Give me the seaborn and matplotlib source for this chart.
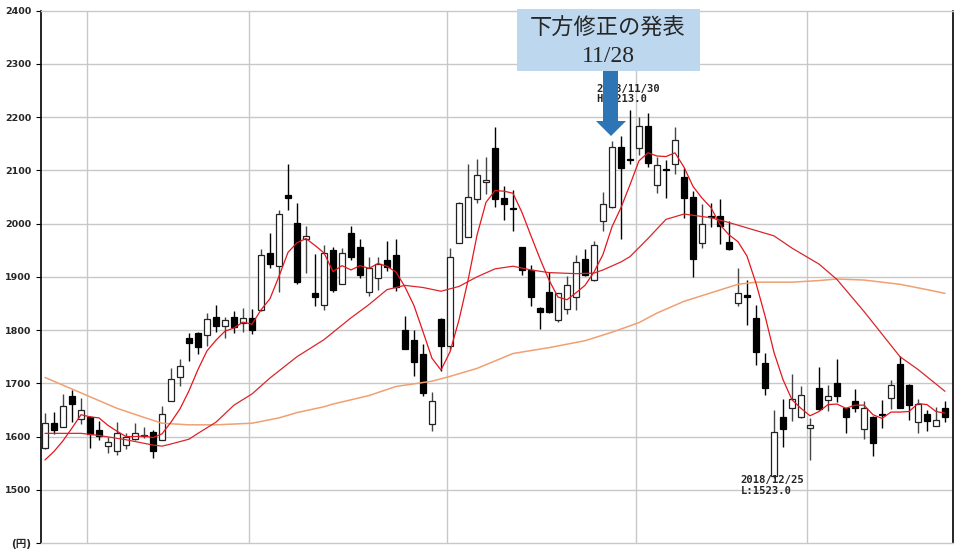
import matplotlib
matplotlib.use("Agg")
import matplotlib.pyplot as plt
import seaborn as sns
import numpy as np
from matplotlib.patches import Rectangle, Polygon

# daily candles, 2018/08/27 .. 2019/01/28 (index = trading day)
opens = [1578, 1626, 1618, 1677, 1633, 1636, 1612, 1582, 1572, 1584,
         1596, 1601, 1608, 1594, 1667, 1712, 1786, 1794, 1791, 1825,
         1808, 1825, 1814, 1822, 1837, 1945, 1921, 2053, 2001, 1971,
         1869, 1848, 1951, 1887, 1982, 1956, 1872, 1897, 1932, 1941,
         1800, 1782, 1756, 1624, 1821, 1770, 1964, 1975, 2047, 2078,
         2142, 2048, 2029, 1956, 1912, 1842, 1872, 1818, 1840, 1862,
         1934, 1895, 2004, 2031, 2144, 2122, 2143, 2184, 2073, 2103,
         2112, 2087, 2050, 1964, 2015, 2014, 1966, 1851, 1865, 1823,
         1739, 1525, 1637, 1654, 1637, 1616, 1691, 1669, 1701, 1653,
         1666, 1614, 1637, 1643, 1673, 1736, 1697, 1628, 1643, 1620,
         1654]
highs = [1644, 1647, 1679, 1688, 1672, 1638, 1630, 1599, 1628, 1607,
         1626, 1617, 1612, 1657, 1728, 1745, 1795, 1797, 1833, 1847,
         1824, 1836, 1841, 1839, 1952, 1982, 2026, 2112, 2038, 1995,
         1942, 1960, 1957, 1954, 1996, 1972, 1937, 1937, 1968, 1972,
         1827, 1801, 1773, 1684, 1823, 1954, 2041, 2112, 2122, 2126,
         2181, 2070, 2064, 1957, 1923, 1843, 1909, 1870, 1901, 1941,
         1952, 1967, 2059, 2156, 2165, 2213, 2201, 2207, 2126, 2120,
         2182, 2104, 2062, 2037, 2039, 2046, 2004, 1917, 1894, 1848,
         1757, 1650, 1670, 1718, 1695, 1634, 1731, 1696, 1746, 1654,
         1690, 1667, 1638, 1668, 1707, 1752, 1698, 1671, 1649, 1656,
         1667]
lows = [1577, 1605, 1617, 1628, 1624, 1578, 1594, 1569, 1566, 1577,
        1594, 1597, 1559, 1593, 1666, 1695, 1742, 1756, 1771, 1797,
        1786, 1794, 1797, 1792, 1836, 1916, 1872, 2025, 1887, 1908,
        1845, 1838, 1872, 1886, 1932, 1897, 1864, 1876, 1911, 1873,
        1764, 1714, 1676, 1611, 1724, 1762, 1963, 1974, 2039, 2056,
        2031, 2007, 1986, 1904, 1845, 1802, 1832, 1815, 1831, 1837,
        1902, 1892, 1986, 2030, 1971, 2112, 2129, 2107, 2057, 2048,
        2094, 2011, 1899, 1954, 1994, 1961, 1951, 1846, 1809, 1734,
        1678, 1523, 1581, 1629, 1634, 1556, 1650, 1648, 1665, 1607,
        1646, 1596, 1564, 1616, 1651, 1653, 1631, 1606, 1610, 1619,
        1628]
closes = [1626, 1612, 1658, 1661, 1649, 1605, 1601, 1589, 1606, 1600,
          1606, 1603, 1573, 1642, 1709, 1733, 1775, 1769, 1820, 1808,
          1819, 1805, 1823, 1800, 1941, 1924, 2018, 2048, 1891, 1977,
          1863, 1945, 1876, 1945, 1937, 1903, 1917, 1925, 1918, 1881,
          1765, 1740, 1682, 1666, 1771, 1937, 2039, 2050, 2091, 2082,
          2047, 2037, 2027, 1912, 1862, 1834, 1834, 1869, 1884, 1928,
          1904, 1959, 2037, 2144, 2104, 2120, 2184, 2114, 2111, 2101,
          2157, 2048, 1934, 1999, 2013, 1996, 1952, 1869, 1863, 1759,
          1692, 1609, 1614, 1671, 1678, 1622, 1651, 1677, 1676, 1637,
          1653, 1654, 1587, 1641, 1696, 1654, 1659, 1662, 1629, 1632,
          1637]

# moving averages
ma5 = [1556, 1572, 1592, 1616, 1641, 1637, 1635, 1621, 1610, 1600,
       1600, 1601, 1598, 1605, 1627, 1652, 1686, 1726, 1761, 1781,
       1798, 1804, 1815, 1811, 1838, 1859, 1901, 1946, 1964, 1972,
       1959, 1945, 1910, 1921, 1913, 1921, 1916, 1925, 1920, 1909,
       1881, 1846, 1797, 1747, 1725, 1759, 1819, 1893, 1978, 2040,
       2062, 2061, 2057, 2021, 1977, 1934, 1894, 1862, 1857, 1870,
       1884, 1909, 1942, 1994, 2030, 2073, 2118, 2133, 2127, 2126,
       2133, 2106, 2070, 2048, 2030, 1998, 1979, 1966, 1939, 1888,
       1827, 1758, 1707, 1669, 1653, 1639, 1647, 1660, 1661, 1653,
       1659, 1659, 1641, 1634, 1646, 1646, 1647, 1662, 1660, 1647,
       1644]
ma25_day = [0, 4, 6, 9, 12, 13, 14, 16, 17, 19, 21, 23, 25, 28, 31, 34,
            36, 38, 40, 42, 44, 46, 48, 50, 52, 54, 56, 59, 61, 62, 64,
            65, 67, 69, 71, 74, 76, 78, 81, 83, 86, 88, 91, 95, 97, 100]
ma25 = [1606, 1606, 1602, 1594, 1584, 1582, 1586, 1595, 1606, 1627,
        1659, 1680, 1710, 1750, 1782, 1823, 1848, 1876, 1884, 1880,
        1873, 1882, 1900, 1915, 1920, 1913, 1908, 1906, 1907, 1913,
        1928, 1938, 1972, 2008, 2018, 2011, 2002, 1992, 1977, 1954,
        1924, 1895, 1835, 1750, 1726, 1685]
ma75_day = [0, 4, 8, 11, 13, 16, 19, 23, 26, 28, 31, 32, 36, 39, 43, 45,
            48, 52, 56, 60, 63, 66, 68, 71, 74, 77, 79, 83, 86, 88, 91,
            95, 98, 100]
ma75 = [1711, 1682, 1653, 1636, 1625, 1622, 1622, 1625, 1635, 1645,
        1656, 1661, 1677, 1694, 1704, 1713, 1728, 1756, 1767, 1780,
        1796, 1814, 1832, 1854, 1870, 1886, 1890, 1890, 1893, 1896,
        1894, 1886, 1876, 1869]

month_start = [5, 23, 45, 66, 85]   # 9月, 10月, 11月, 12月, 1月
y_ticks = [1400, 1500, 1600, 1700, 1800, 1900, 2000, 2100, 2200, 2300, 2400]
y_labels = ['(円)', '1500', '1600', '1700', '1800', '1900', '2000', '2100',
            '2200', '2300', '2400']

sns.set_style('white')
plt.rcParams['font.family'] = ['DejaVu Sans', 'Noto Sans CJK JP']

W, H = 958, 549
fig = plt.figure(figsize=(W / 100, H / 100), dpi=100)
ax = fig.add_axes([41 / W, 6 / H, 912 / W, 532.3 / H])

days = np.arange(len(closes))
o = np.array(opens)
c = np.array(closes)
up = c >= o

# wicks
ax.vlines(days[up], np.array(lows)[up], np.array(highs)[up],
          color='#444444', lw=1.0, zorder=2)
ax.vlines(days[~up], np.array(lows)[~up], np.array(highs)[~up],
          color='black', lw=1.0, zorder=2)
# bodies
body = np.maximum(np.abs(c - o), 2)
bottom = np.minimum(o, c)
ax.bar(days[up], body[up], bottom=bottom[up], width=0.74, color='white',
       edgecolor='#222222', linewidth=0.9, zorder=3)
ax.bar(days[~up], body[~up], bottom=bottom[~up], width=0.74, color='black',
       edgecolor='black', linewidth=0.9, zorder=3)

# moving averages
sns.lineplot(x=ma75_day, y=ma75, ax=ax, color='#f0a072', lw=1.1, zorder=4)
sns.lineplot(x=ma25_day, y=ma25, ax=ax, color='#d9262b', lw=0.9, zorder=4)
sns.lineplot(x=days, y=ma5, ax=ax, color='#e4161c', lw=0.9, zorder=4)

ax.set_xlim(-0.444, 100.89)
ax.set_ylim(1400, 2400)
ax.set_yticks(y_ticks)
ax.set_yticklabels(y_labels, fontsize=6.8, fontweight='bold')
ax.get_yticklabels()[0].set_fontsize(7.6)
ax.set_xticks([])
ax.tick_params(axis='y', length=3.5, width=0.8, color='black', pad=3.5,
               left=True)

for yv in y_ticks[1:-1]:
    ax.axhline(yv, color='#c8c8c8', lw=1.0, zorder=1)
for m in month_start:
    ax.axvline(m - 0.3, color='#c8c8c8', lw=1.0, zorder=1)

for s in ['top', 'bottom']:
    ax.spines[s].set_color('#c8c8c8')
    ax.spines[s].set_linewidth(1.0)
for s in ['left', 'right']:
    ax.spines[s].set_color('black')
    ax.spines[s].set_linewidth(1.2)

# high / low labels
ax.text(61.3, 2263, '2018/11/30\nH:2213.0', ha='left', va='top',
        family='DejaVu Sans Mono', fontweight='bold', fontsize=7.6,
        linespacing=1.05, zorder=5)
ax.text(77.3, 1527, '2018/12/25\nL:1523.0', ha='left', va='top',
        family='DejaVu Sans Mono', fontweight='bold', fontsize=7.6,
        linespacing=1.05, zorder=5)

# callout box and arrow (figure pixel positions)
def fx(px):
    return px / W

def fy(py):
    return 1 - py / H

fig.add_artist(Rectangle((fx(517), fy(71)), fx(700) - fx(517), fy(9) - fy(71),
                         transform=fig.transFigure, facecolor='#bdd7ee',
                         edgecolor='none', zorder=10))
fig.text(fx(608), fy(28), '下方修正の発表', ha='center', va='center',
         family=['Noto Sans CJK JP'], fontsize=16, color='#262626', zorder=11)
fig.text(fx(608), fy(57), '11/28', ha='center', va='center',
         family=['Liberation Serif'], fontsize=17, color='#262626', zorder=11)
arrow_pts = [(603, 71), (618, 71), (618, 121), (626, 121), (611, 136),
             (596, 121), (603, 121)]
fig.add_artist(Polygon([(fx(a), fy(b)) for a, b in arrow_pts], closed=True,
                       transform=fig.transFigure, facecolor='#2e75b6',
                       edgecolor='none', zorder=12))

fig.savefig('out.png', dpi=100)
